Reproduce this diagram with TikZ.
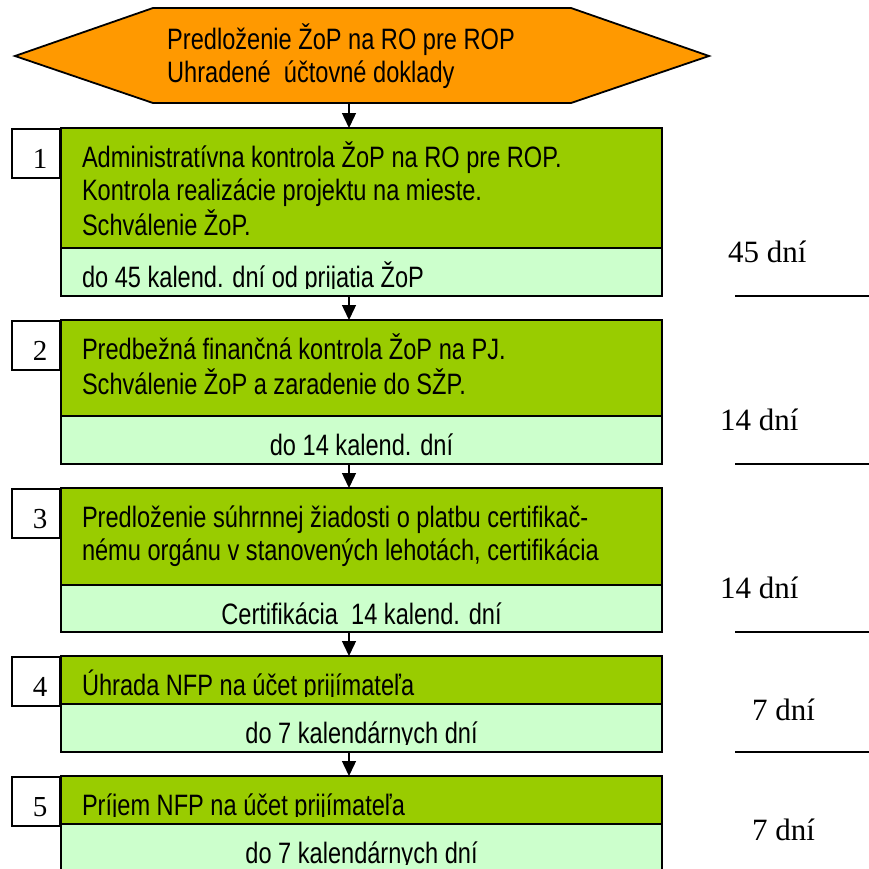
\documentclass[tikz,border=0pt]{standalone}
\usepackage{fontspec}
\setmainfont[FakeStretch=0.8]{Liberation Sans}
\newfontfamily\numfont{Liberation Serif}
\usetikzlibrary{arrows.meta}
\definecolor{hexorange}{HTML}{FF9900}
\definecolor{stepgreen}{HTML}{99CC00}
\definecolor{daygreen}{HTML}{CCFFCC}
\begin{document}
\begin{tikzpicture}[x=1pt,y=-1pt,
  every node/.style={font=\fontsize{29.5}{33}\selectfont},
  stepbox/.style={draw, line width=1.8pt, inner sep=0pt, outer sep=0pt, anchor=north west, minimum width=601pt},
  steptext/.style={draw=none, fill=none, inner sep=0pt, minimum width=0pt, minimum height=0pt, path picture={}},
  lefttext/.style={path picture={
      \clip ([yshift=8pt]path picture bounding box.south west) rectangle (path picture bounding box.north east);
      \node[steptext, anchor=base west] at ([xshift=21pt,yshift=-39pt]path picture bounding box.north west)
        {\begin{tabular}[t]{@{}l@{}}#1\end{tabular}};}},
  midtext/.style={path picture={
      \clip ([yshift=8pt]path picture bounding box.south west) rectangle (path picture bounding box.north east);
      \node[steptext, anchor=base] at ([yshift=-39pt]path picture bounding box.north) {#1};}},
  numbox/.style={draw, fill=white, line width=1.8pt, inner sep=0pt, anchor=north east, minimum width=48pt, minimum height=49pt, text height=30pt, text depth=0pt, font=\numfont\fontsize{29}{29}\selectfont},
  days/.style={anchor=base west, inner sep=0pt, font=\numfont\fontsize{31}{31}\selectfont},
  flow/.style={line width=1.4pt, -{Triangle[width=14pt,length=15pt]}}
]
\useasboundingbox (0,0) rectangle (869,868);

% start of the process
\draw[fill=hexorange, line width=1.8pt] (15,56) -- (153,8) -- (571,8) -- (709,56) -- (571,103) -- (153,103) -- cycle;
\node[anchor=base west, align=left, inner sep=0pt] (start) at (167,82) {Predloženie ŽoP na RO pre ROP\\Uhradené\ \ účtovné doklady};
\coordinate (hexbot) at (349,103);

% step 1
\node[stepbox, fill=stepgreen, minimum height=120pt, lefttext={Administratívna kontrola ŽoP na RO pre ROP.\\Kontrola realizácie projektu na mieste.\\Schválenie ŽoP.}] (g1) at (61,128) {};
\node[stepbox, fill=daygreen, minimum height=48pt, lefttext={do 45 kalend. dní od prijatia ŽoP}] (l1) at (g1.south west) {};
\node[numbox] (n1) at (g1.north west) {\hspace*{8pt}1};

% step 2
\node[stepbox, fill=stepgreen, minimum height=96pt, lefttext={Predbežná finančná kontrola ŽoP na PJ.\\Schválenie ŽoP a zaradenie do SŽP.}] (g2) at (61,320) {};
\node[stepbox, fill=daygreen, minimum height=48pt, midtext={do 14 kalend. dní}] (l2) at (g2.south west) {};
\node[numbox] (n2) at (g2.north west) {\hspace*{8pt}2};

% step 3
\node[stepbox, fill=stepgreen, minimum height=97pt, lefttext={Predloženie súhrnnej žiadosti o platbu certifikač-\\nému orgánu v stanovených lehotách, certifikácia}] (g3) at (61,488) {};
\node[stepbox, fill=daygreen, minimum height=47pt, midtext={Certifikácia\ \ 14 kalend. dní}] (l3) at (g3.south west) {};
\node[numbox] (n3) at (g3.north west) {\hspace*{8pt}3};

% step 4
\node[stepbox, fill=stepgreen, minimum height=48pt, lefttext={Úhrada NFP na účet prijímateľa}] (g4) at (61,656) {};
\node[stepbox, fill=daygreen, minimum height=48pt, midtext={do 7 kalendárnych dní}] (l4) at (g4.south west) {};
\node[numbox] (n4) at (g4.north west) {\hspace*{8pt}4};

% step 5
\node[stepbox, fill=stepgreen, minimum height=48pt, lefttext={Príjem NFP na účet prijímateľa}] (g5) at (61,776) {};
\node[stepbox, fill=daygreen, minimum height=48pt, midtext={do 7 kalendárnych dní}] (l5) at (g5.south west) {};
\node[numbox] (n5) at (g5.north west) {\hspace*{8pt}5};

% arrows
\draw[flow] (hexbot) -- (hexbot |- g1.north);
\foreach \a/\b in {l1/g2, l2/g3, l3/g4, l4/g5}
  \draw[flow] (\a.south -| hexbot) -- (\b.north -| hexbot);

% days on the right
\node[days] (d1) at (728,262) {45 dní};
\node[days] (d2) at (720,430) {14 dní};
\node[days] (d3) at (720,598) {14 dní};
\node[days] (d4) at (752,720) {7 dní};
\node[days] (d5) at (752,840) {7 dní};
\foreach \y in {296,464,632,752}
  \draw[line width=1.5pt] (735,\y) -- (869,\y);
\end{tikzpicture}
\end{document}
